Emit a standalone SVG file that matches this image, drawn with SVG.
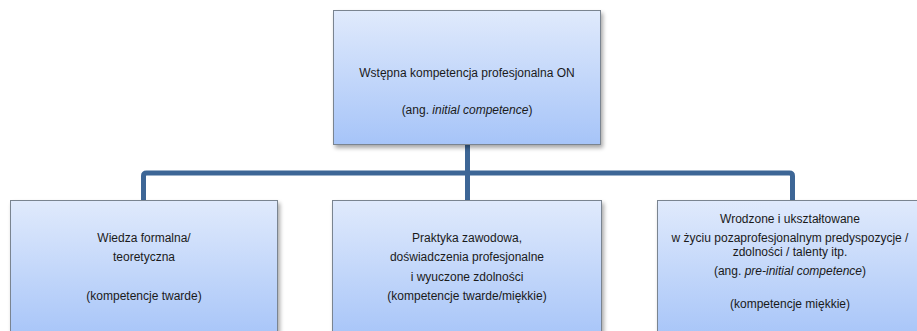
<svg xmlns="http://www.w3.org/2000/svg" width="917" height="331" viewBox="0 0 917 331">
<defs>
<linearGradient id="g" x1="0" y1="0" x2="0" y2="1">
<stop offset="0" stop-color="#e0eafc"/>
<stop offset="1" stop-color="#a6c4f8"/>
</linearGradient>
<filter id="sh" x="-5%" y="-5%" width="115%" height="120%">
<feGaussianBlur in="SourceAlpha" stdDeviation="2"/>
<feOffset dx="2" dy="3" result="b"/>
<feComponentTransfer><feFuncA type="linear" slope="0.35"/></feComponentTransfer>
<feMerge><feMergeNode/><feMergeNode in="SourceGraphic"/></feMerge>
</filter>
</defs>
<style>
.box{fill:url(#g);stroke:#7a8490;stroke-width:1;filter:url(#sh)}
.t{font-family:"Liberation Sans",Arial,sans-serif;font-size:12px;fill:#1a1a1a;text-anchor:middle}
.i{font-style:italic}
.c{fill:none;stroke:#3d6696;stroke-width:5;stroke-linejoin:round}
</style>
<rect width="917" height="331" fill="#ffffff"/>
<g id="connectors">
<path class="c" d="M467.5 145 V173"/>
<path class="c" d="M143.5 200 V176 Q143.5 173 146.5 173 H789.5 Q792.5 173 792.5 176 V200"/>
<path class="c" d="M467.5 173 V200"/>
</g>
<g id="node-top">
<rect class="box" x="333.5" y="10.5" width="267" height="134"/>
<text class="t" x="467" y="77">Wstępna kompetencja profesjonalna ON</text>
<text class="t" x="467" y="114">(ang. <tspan class="i">initial competence</tspan>)</text>
</g>
<g id="node-left">
<rect class="box" x="10.5" y="200.5" width="267" height="140"/>
<text class="t" x="144" y="242">Wiedza formalna/</text>
<text class="t" x="144" y="261">teoretyczna</text>
<text class="t" x="144" y="300">(kompetencje twarde)</text>
</g>
<g id="node-middle">
<rect class="box" x="332.5" y="200.5" width="269" height="140"/>
<text class="t" x="467" y="242">Praktyka zawodowa,</text>
<text class="t" x="467" y="261">doświadczenia profesjonalne</text>
<text class="t" x="467" y="281">i wyuczone zdolności</text>
<text class="t" x="467" y="300">(kompetencje twarde/miękkie)</text>
</g>
<g id="node-right">
<rect class="box" x="657.5" y="200.5" width="270" height="140"/>
<text class="t" x="790" y="223">Wrodzone i ukształtowane</text>
<text class="t" x="790" y="242">w życiu pozaprofesjonalnym predyspozycje /</text>
<text class="t" x="790" y="256">zdolności / talenty itp.</text>
<text class="t" x="790" y="275">(ang. <tspan class="i">pre-initial competence</tspan>)</text>
<text class="t" x="790" y="308">(kompetencje miękkie)</text>
</g>
</svg>
